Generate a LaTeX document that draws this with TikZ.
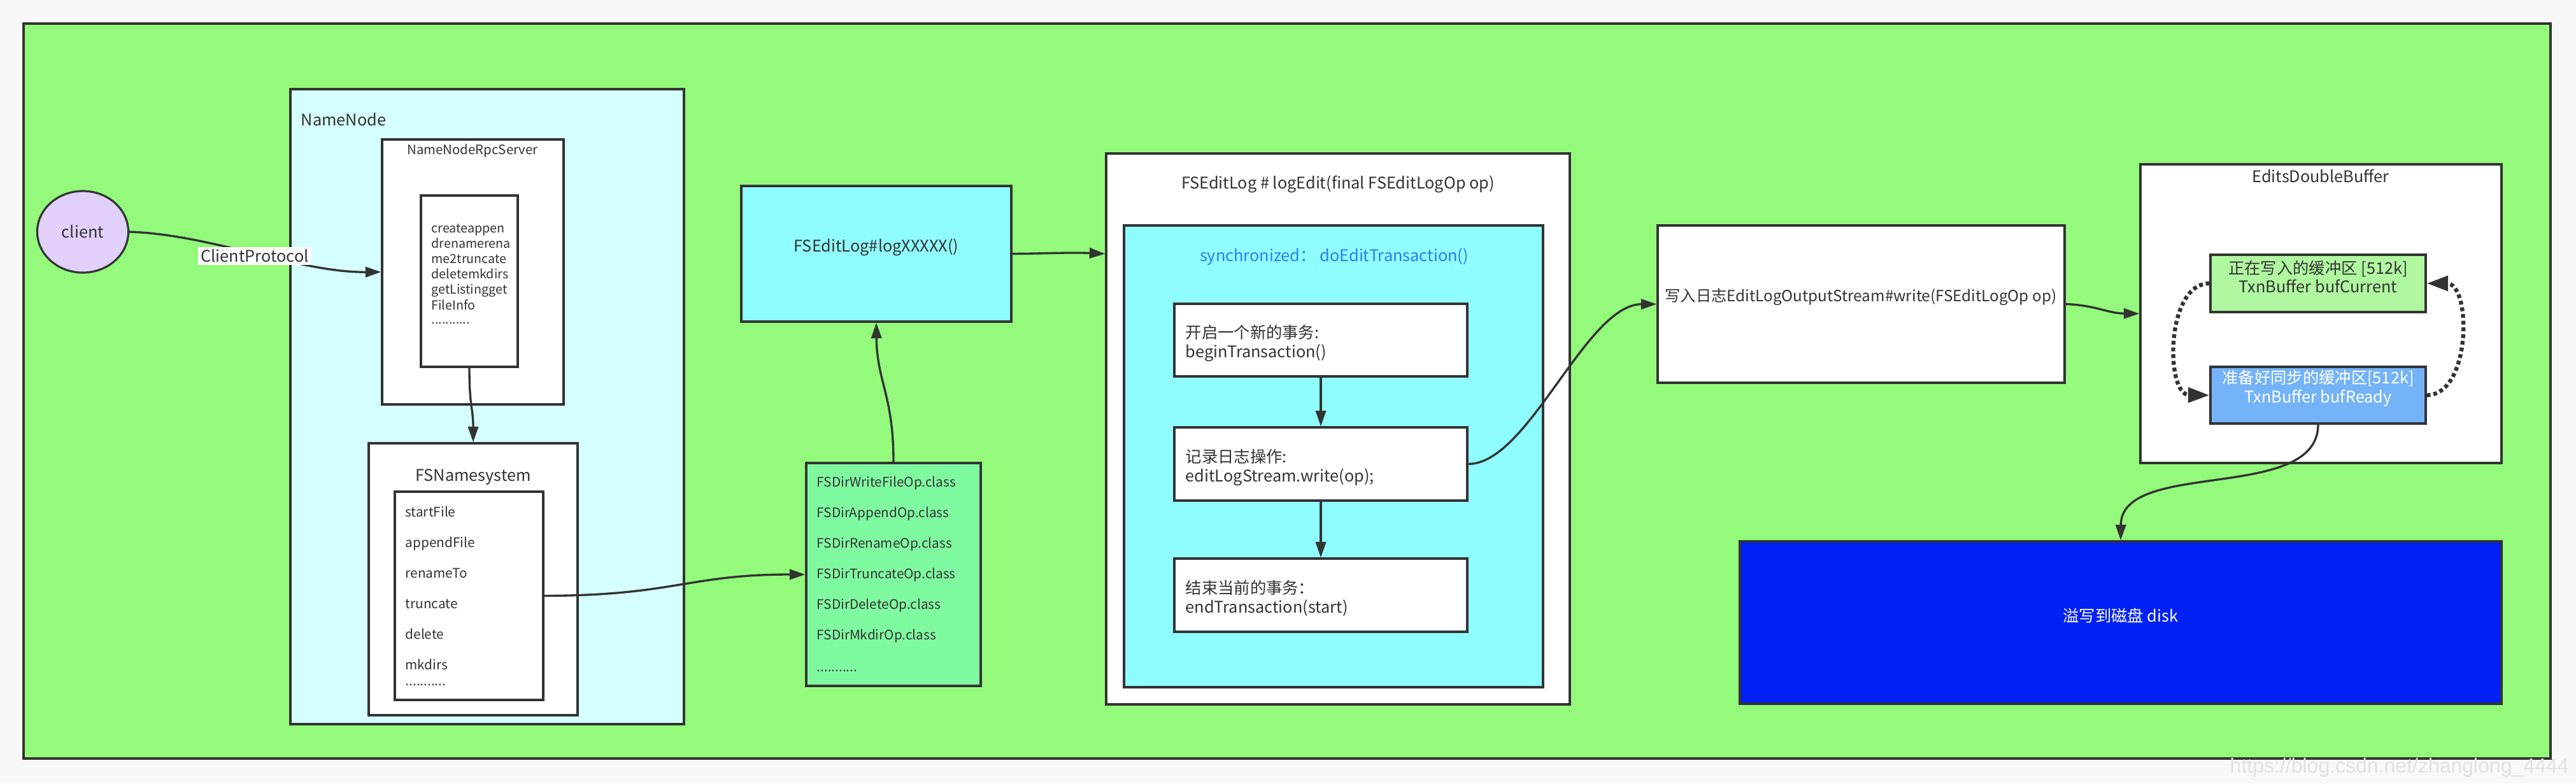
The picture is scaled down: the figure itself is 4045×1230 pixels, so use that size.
\documentclass[tikz,border=0pt]{standalone}
\usepackage{fontspec}
\setmainfont{Noto Sans CJK SC}
\newfontfamily\wmfont{Liberation Sans}
\usetikzlibrary{arrows.meta,shapes.geometric,fit}
\definecolor{pagebg}{RGB}{248,248,248}
\definecolor{outergreen}{RGB}{147,250,123}
\definecolor{nncyan}{RGB}{213,255,255}
\definecolor{cyanbox}{RGB}{143,253,255}
\definecolor{mint}{RGB}{128,250,160}
\definecolor{lav}{RGB}{224,208,250}
\definecolor{curgreen}{RGB}{176,248,160}
\definecolor{readyblue}{RGB}{116,179,248}
\definecolor{diskblue}{RGB}{0,33,245}
\definecolor{syncblue}{RGB}{45,125,245}
\definecolor{ink}{RGB}{51,51,51}
\definecolor{wm}{RGB}{226,226,226}
\begin{document}
\begin{tikzpicture}[x=0.01cm,y=-0.01cm,
  box/.style={draw=ink,line width=0.9pt,inner sep=0pt},
  mainfont/.style={font=\fontsize{7.2}{8.3}\selectfont},
  txt/.style={text=ink,inner sep=0pt,mainfont},
  listtxt/.style={text=ink,inner sep=0pt,align=left,anchor=base west},
  conn/.style={draw=ink,line width=0.95pt},
  arr/.style={conn,-{Triangle[length=7pt,width=4.6pt]}},
  dotarr/.style={draw=ink,line width=1.8pt,dash pattern=on 1.7pt off 1.3pt,-{Triangle[length=9.5pt,width=6.5pt]}},
]
\fill[pagebg] (0,0) rectangle (4045,1230);
\useasboundingbox (0,0) rectangle (4045,1230);

% outer frame
\node[box,fill=outergreen,fit={(37,37)(4005,1191)}] (frame) {};

% client
\node[ellipse,draw=ink,line width=0.9pt,fill=lav,minimum width=1.43cm,minimum height=1.28cm,inner sep=0pt,txt] (client) at (130,364) {client};

% NameNode
\node[box,fill=nncyan,fit={(456,140)(1074,1137)}] (nn) {};
\node[txt,anchor=base west] (nnt) at (472,197) {NameNode};
\node[box,fill=white,fit={(600,219)(885,635)}] (rpc) {};
\node[text=ink,inner sep=0pt,anchor=base,font=\fontsize{5.8}{7}\selectfont] (rpct) at (742,242) {NameNodeRpcServer};
\node[box,fill=white,fit={(661,307)(813,576)}] (rpclist) {};
\node[listtxt,font=\fontsize{5.6}{6.85}\selectfont] (rpcl) at (677,508) {createappen\\drenamerena\\me2truncate\\deletemkdirs\\getListingget\\FileInfo\\[-0.6pt]...........};
\node[box,fill=white,fit={(579,696)(907,1123)}] (fsn) {};
\node[txt,anchor=base] (fsnt) at (743,755) {FSNamesystem};
\node[box,fill=white,fit={(620,772)(853,1099)}] (fsnlist) {};
\node[listtxt,font=\fontsize{5.9}{13.66}\selectfont] (fsnl) at (636,1076) {startFile\\appendFile\\renameTo\\truncate\\delete\\mkdirs\\[-6.83pt]...........};

% logXXXXX and FSDir ops
\node[box,fill=cyanbox,text=ink,mainfont,fit={(1164,292)(1588,505)}] (logx) {FSEditLog\#logXXXXX()};
\node[box,fill=mint,fit={(1266,727)(1540,1077)}] (fsdir) {};
\node[listtxt,font=\fontsize{5.9}{13.66}\selectfont] (fsdirl) at (1282,1054) {FSDirWriteFileOp.class\\FSDirAppendOp.class\\FSDirRenameOp.class\\FSDirTruncateOp.class\\FSDirDeleteOp.class\\FSDirMkdirOp.class\\[0.5pt]...........};

% FSEditLog # logEdit container
\node[box,fill=white,fit={(1737,241)(2465,1106)}] (le) {};
\node[txt,anchor=base] (let) at (2101,296) {FSEditLog \# logEdit(final FSEditLogOp op)};
\node[box,fill=cyanbox,fit={(1765,354)(2423,1079)}] (sync) {};
\node[txt,anchor=base,text=syncblue] (synct) at (2095,410) {synchronized： doEditTransaction()};
\node[box,fill=white,fit={(1844,477)(2304,591)}] (s1) {};
\node[listtxt,mainfont] (s1t) at (1861,561) {开启一个新的事务:\\beginTransaction()};
\node[box,fill=white,fit={(1844,671)(2304,786)}] (s2) {};
\node[listtxt,mainfont] (s2t) at (1861,756) {记录日志操作:\\editLogStream.write(op);};
\node[box,fill=white,fit={(1844,877)(2304,992)}] (s3) {};
\node[listtxt,mainfont] (s3t) at (1861,962) {结束当前的事务：\\endTransaction(start)};

% write box
\node[box,fill=white,fit={(2603,354)(3242,601)}] (wr) {};
\node[text=ink,inner sep=0pt,font=\fontsize{6.9}{8}\selectfont] (wrt) at (2922,466) {写入日志EditLogOutputStream\#write(FSEditLogOp op)};

% EditsDoubleBuffer
\node[box,fill=white,fit={(3361,258)(3928,727)}] (edb) {};
\node[txt,anchor=base] (edbt) at (3644,286) {EditsDoubleBuffer};
\node[box,fill=curgreen,text=ink,mainfont,align=center,fit={(3471,400)(3809,490)}] (cur) {正在写入的缓冲区 [512k]\\TxnBuffer bufCurrent};
\node[box,fill=readyblue,text=white,mainfont,align=center,fit={(3471,576)(3809,665)}] (rdy) {准备好同步的缓冲区[512k]\\TxnBuffer bufReady};

% disk
\node[box,fill=diskblue,text=white,mainfont,fit={(2732,850)(3928,1105)}] (disk) {溢写到磁盘 disk};

% connectors
\draw[arr] (client.east) .. controls (330,368) and (470,428) .. (rpc.west);
\node[fill=white,text=ink,inner sep=1.2pt,mainfont] (cp) at (400,402) {ClientProtocol};
\draw[arr] (rpclist.south) .. controls (737,640) and (743,640) .. (fsn.north);
\draw[arr] (fsnlist.east) .. controls (1060,935) and (1080,902) .. (fsdir.west);
\draw[arr] (fsdir.north) .. controls (1403,620) and (1377,600) .. (logx.south);
\draw[arr] (logx.east) .. controls (1650,398) and (1680,396) .. (le.west |- logx.east);
\draw[arr] (s1.south) -- (s2.north);
\draw[arr] (s2.south) -- (s3.north);
\draw[arr] (s2.east) .. controls (2400,729) and (2490,478) .. (wr.west);
\draw[arr] (wr.east) .. controls (3290,479) and (3310,492) .. (edb.west);
\draw[dotarr] (cur.west) .. controls (3400,445) and (3400,620) .. (rdy.west);
\draw[dotarr] (rdy.east) .. controls (3881,620) and (3881,445) .. (cur.east);
\draw[arr] (rdy.south) .. controls (3640,790) and (3331,720) .. (disk.north);

% watermark
\node[anchor=base west,text=wm,inner sep=0pt,font=\wmfont\fontsize{9.1}{11}\selectfont] (wmk) at (3501,1213) {https://blog.csdn.net/zhanglong\_4444};
\end{tikzpicture}
\end{document}
